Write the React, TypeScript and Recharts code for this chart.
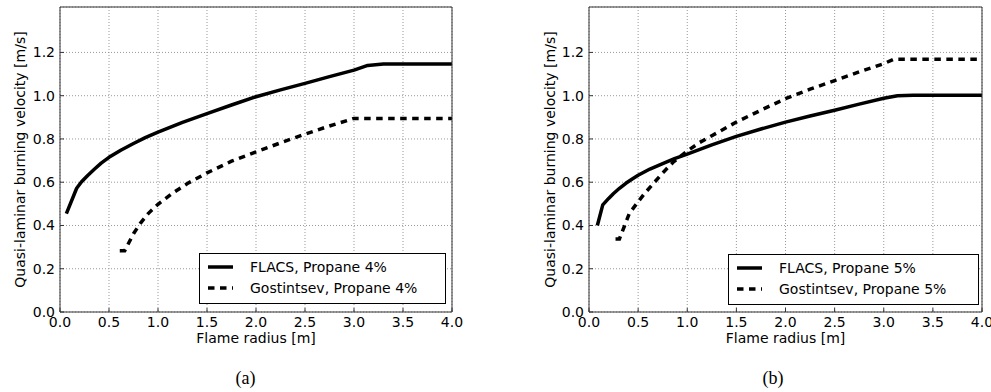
import React from 'react';
import { LineChart, Line, XAxis, YAxis, CartesianGrid, Legend } from 'recharts';

// ---------- data ----------
const xTicks = [0, 0.5, 1, 1.5, 2, 2.5, 3, 3.5, 4];
const yTicks = [0, 0.2, 0.4, 0.6, 0.8, 1.0, 1.2];

// (a) Propane 4%
const flacs4R = [0.065, 0.17, 0.22, 0.28, 0.35, 0.42, 0.5, 0.62, 0.75, 0.87, 1.0, 1.25, 1.5, 1.75, 2.0, 2.25, 2.5, 2.75, 3.0, 3.14, 3.3, 3.5, 4.0];
const flacs4V = [0.455, 0.572, 0.602, 0.63, 0.66, 0.688, 0.715, 0.748, 0.779, 0.806, 0.832, 0.877, 0.917, 0.957, 0.995, 1.027, 1.057, 1.088, 1.118, 1.14, 1.146, 1.147, 1.147];
const gost4R = [0.61, 0.66, 0.75, 0.82, 0.9, 1.0, 1.15, 1.3, 1.5, 1.75, 2.0, 2.25, 2.5, 2.75, 3.0, 4.0];
const gost4V = [0.283, 0.283, 0.362, 0.41, 0.455, 0.498, 0.55, 0.594, 0.643, 0.697, 0.74, 0.782, 0.822, 0.86, 0.895, 0.895];

// (b) Propane 5%
const flacs5R = [0.085, 0.14, 0.2, 0.25, 0.31, 0.375, 0.44, 0.5, 0.62, 0.75, 0.87, 1.0, 1.25, 1.5, 1.75, 2.0, 2.25, 2.5, 2.75, 3.0, 3.14, 3.3, 4.0];
const flacs5V = [0.4, 0.495, 0.525, 0.548, 0.572, 0.595, 0.615, 0.632, 0.661, 0.686, 0.709, 0.73, 0.773, 0.812, 0.846, 0.878, 0.906, 0.933, 0.961, 0.988, 1.0, 1.002, 1.002];
const gost5R = [0.27, 0.31, 0.41, 0.5, 0.57, 0.64, 0.75, 0.86, 1.0, 1.12, 1.25, 1.5, 1.75, 2.0, 2.25, 2.5, 2.75, 3.0, 3.1, 4.0];
const gost5V = [0.338, 0.338, 0.455, 0.51, 0.55, 0.586, 0.643, 0.694, 0.744, 0.782, 0.815, 0.878, 0.933, 0.986, 1.03, 1.07, 1.11, 1.148, 1.168, 1.168];

const xLabel = 'Flame radius [m]';
const yLabel = 'Quasi-laminar burning velocity [m/s]';

// ---------- helpers ----------
const toPoints = (r: number[], v: number[]) => r.map((x, i) => ({ x, v: v[i] }));

const FONT = "'DejaVu Sans', sans-serif";
const SPINE = '#333';
const Y_MAX = 1.41;
const DASH = '6.5 5.5';

type PanelProps = {
  left: number;
  width: number;
  yAxisWidth: number;
  marginRight: number;
  solid: { x: number; v: number }[];
  dashed: { x: number; v: number }[];
  solidName: string;
  dashedName: string;
  legendLeft: number;
  legendTop: number;
  legendWidth: number;
};

const LegendBox = ({ w, solidName, dashedName }: { w: number; solidName: string; dashedName: string }) => (
  <svg width={w} height={51} style={{ display: 'block' }}>
    <rect x={0.5} y={0.5} width={w - 1} height={50} fill="#fff" stroke="#000" strokeWidth={1} />
    <line x1={9} x2={34} y1={14} y2={14} stroke="#000" strokeWidth={3.5} />
    <line x1={9} x2={34} y1={35} y2={35} stroke="#000" strokeWidth={3.5} strokeDasharray={DASH} />
    <text x={51} y={14} dominantBaseline="central" fontFamily={FONT} fontSize={14} fill="#000">{solidName}</text>
    <text x={51} y={35} dominantBaseline="central" fontFamily={FONT} fontSize={14} fill="#000">{dashedName}</text>
  </svg>
);

const Panel = (p: PanelProps) => (
  <div style={{ position: 'absolute', left: p.left, top: 0 }}>
    <LineChart width={p.width} height={392} margin={{ top: 7, right: p.marginRight, bottom: 0, left: 0 }}>
      <CartesianGrid stroke="#999" strokeDasharray="1 2" strokeWidth={1} />
      <XAxis
        dataKey="x"
        type="number"
        domain={[0, 4]}
        ticks={xTicks}
        allowDataOverflow
        height={80}
        tickSize={-4}
        tickMargin={9}
        tickLine={{ stroke: SPINE }}
        axisLine={{ stroke: SPINE }}
        tickFormatter={(t: number) => t.toFixed(1)}
        tick={{ fill: '#000', fontSize: 14, fontFamily: FONT }}
        label={{ value: xLabel, position: 'insideTop', offset: 21, fill: '#000', fontSize: 14, fontFamily: FONT }}
      />
      <YAxis
        dataKey="v"
        type="number"
        domain={[0, Y_MAX]}
        ticks={yTicks}
        allowDataOverflow
        width={p.yAxisWidth}
        tickSize={-4}
        tickMargin={9}
        tickLine={{ stroke: SPINE }}
        axisLine={{ stroke: SPINE }}
        tickFormatter={(t: number) => t.toFixed(1)}
        tick={{ fill: '#000', fontSize: 14, fontFamily: FONT }}
        label={{
          value: yLabel,
          content: (props: any) => {
            const vb = props.viewBox || {};
            const cx = (vb.x || 0) + 24.5;
            const cy = (vb.y || 0) + (vb.height || 0) / 2;
            return (
              <text x={cx} y={cy} transform={`rotate(-90 ${cx} ${cy})`} textAnchor="middle" fontFamily={FONT} fontSize={14} fill="#000">
                {yLabel}
              </text>
            );
          },
        }}
      />
      <XAxis
        xAxisId="top"
        orientation="top"
        type="number"
        domain={[0, 4]}
        ticks={xTicks}
        allowDataOverflow
        mirror
        height={1}
        tick={false}
        tickSize={4}
        tickLine={{ stroke: SPINE }}
        axisLine={{ stroke: SPINE }}
      />
      <YAxis
        yAxisId="right"
        orientation="right"
        type="number"
        domain={[0, Y_MAX]}
        ticks={yTicks}
        allowDataOverflow
        mirror
        width={1}
        tick={false}
        tickSize={4}
        tickLine={{ stroke: SPINE }}
        axisLine={{ stroke: SPINE }}
      />
      <Line
        data={p.solid}
        dataKey="v"
        name={p.solidName}
        type="linear"
        stroke="#000"
        strokeWidth={3.5}
        strokeLinejoin="round"
        dot={false}
        activeDot={false}
        isAnimationActive={false}
      />
      <Line
        data={p.dashed}
        dataKey="v"
        name={p.dashedName}
        type="linear"
        stroke="#000"
        strokeWidth={3.5}
        strokeDasharray={DASH}
        dot={false}
        activeDot={false}
        isAnimationActive={false}
      />
      <Legend
        layout="horizontal"
        verticalAlign="middle"
        align="center"
        wrapperStyle={{ left: p.legendLeft, top: p.legendTop, width: p.legendWidth, height: 51 }}
        content={() => <LegendBox w={p.legendWidth} solidName={p.solidName} dashedName={p.dashedName} />}
      />
    </LineChart>
  </div>
);

const captionStyle: React.CSSProperties = {
  position: 'absolute',
  top: 367,
  height: 22,
  lineHeight: '22px',
  textAlign: 'center',
  fontFamily: "'Liberation Serif', 'Times New Roman', serif",
  fontSize: 18,
  color: '#000',
};

export default function App() {
  return (
    <div style={{ position: 'absolute', left: 0, top: 0, width: 991, height: 392, background: '#fff', overflow: 'hidden' }}>
      <Panel
        left={0}
        width={470}
        yAxisWidth={60}
        marginRight={18}
        solid={toPoints(flacs4R, flacs4V)}
        dashed={toPoints(gost4R, gost4V)}
        solidName="FLACS, Propane 4%"
        dashedName="Gostintsev, Propane 4%"
        legendLeft={199}
        legendTop={253}
        legendWidth={247}
      />
      <Panel
        left={530}
        width={461}
        yAxisWidth={59}
        marginRight={9}
        solid={toPoints(flacs5R, flacs5V)}
        dashed={toPoints(gost5R, gost5V)}
        solidName="FLACS, Propane 5%"
        dashedName="Gostintsev, Propane 5%"
        legendLeft={198}
        legendTop={254}
        legendWidth={251}
      />
      <div style={{ ...captionStyle, left: 0, width: 491 }}>(a)</div>
      <div style={{ ...captionStyle, left: 555, width: 436 }}>(b)</div>
    </div>
  );
}
